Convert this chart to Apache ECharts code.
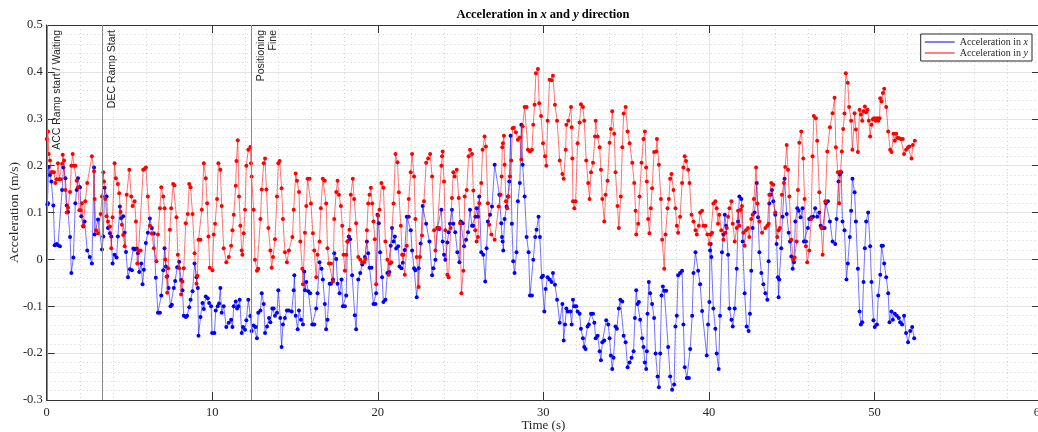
<!DOCTYPE html>
<html>
<head>
<meta charset="utf-8">
<title>Acceleration in x and y direction</title>
<script src="https://cdn.jsdelivr.net/npm/echarts@6/dist/echarts.min.js"></script>
<style>
  html, body { margin: 0; padding: 0; background: #ffffff; }
  #chart { width: 1038px; height: 432px; }
</style>
</head>
<body>
<div id="chart"></div>
<script>
// Measured acceleration samples: [time (s), acceleration (m/s)]
const accelX = [
  [0.04,0.117],[0.08,0.120],[0.12,0.197],[0.20,0.180],[0.28,0.166],[0.40,0.115],[0.48,0.030],[0.60,0.033],[0.68,0.030],[0.80,0.028],
  [0.93,0.148],[1.01,0.196],[1.13,0.173],[1.21,0.115],[1.29,0.101],[1.41,0.048],[1.49,-0.029],[1.61,0.004],[1.73,0.120],[1.81,0.148],
  [1.89,0.173],[2.01,0.154],[2.09,0.092],[2.21,0.070],[2.29,0.081],[2.45,0.019],[2.60,0.005],[2.73,-0.009],[2.86,0.196],[2.90,0.053],
  [3.10,0.085],[3.34,0.021],[3.42,0.049],[3.50,0.153],[3.62,0.134],[3.70,0.067],[3.82,0.056],[3.90,0.049],[3.98,-0.009],[4.10,0.010],
  [4.22,0.004],[4.30,0.049],[4.42,0.113],[4.50,0.088],[4.62,0.092],[4.71,0.057],[4.79,0.016],[4.91,-0.038],[5.03,-0.021],[5.15,-0.023],
  [5.23,0.023],[5.31,0.021],[5.43,0.023],[5.51,0.013],[5.59,-0.027],[5.71,-0.009],[5.79,-0.053],[5.87,-0.022],[5.99,0.035],[6.11,0.057],
  [6.23,0.087],[6.35,0.067],[6.47,0.055],[6.59,-0.039],[6.72,-0.114],[6.84,-0.114],[6.92,-0.077],[7.04,-0.023],[7.12,0.024],[7.20,-0.015],
  [7.28,-0.036],[7.36,-0.061],[7.48,-0.100],[7.56,-0.097],[7.68,-0.061],[7.76,-0.046],[7.88,-0.017],[8.00,-0.005],[8.12,-0.044],[8.20,-0.066],
  [8.28,-0.120],[8.40,-0.123],[8.48,-0.120],[8.61,-0.102],[8.69,-0.086],[8.81,-0.068],[8.93,-0.009],[9.05,-0.038],[9.13,-0.061],[9.17,-0.163],
  [9.29,-0.123],[9.41,-0.093],[9.49,-0.106],[9.61,-0.079],[9.73,-0.083],[9.81,-0.093],[9.93,-0.100],[9.99,-0.157],[10.13,-0.157],[10.21,-0.109],
  [10.33,-0.100],[10.41,-0.094],[10.49,-0.061],[10.57,-0.114],[10.69,-0.100],[10.85,-0.144],[11.00,-0.135],[11.14,-0.129],[11.22,-0.144],[11.30,-0.100],
  [11.42,-0.090],[11.50,-0.105],[11.58,-0.100],[11.66,-0.086],[11.78,-0.157],[11.86,-0.144],[11.98,-0.150],[12.06,-0.130],[12.18,-0.086],[12.30,-0.121],
  [12.38,-0.153],[12.50,-0.141],[12.62,-0.144],[12.70,-0.168],[12.78,-0.114],[12.91,-0.109],[12.99,-0.072],[13.11,-0.095],[13.19,-0.157],[13.31,-0.143],
  [13.43,-0.125],[13.51,-0.134],[13.63,-0.105],[13.71,-0.105],[13.79,-0.120],[13.91,-0.114],[13.99,-0.066],[14.11,-0.125],[14.19,-0.187],[14.27,-0.139],
  [14.39,-0.125],[14.51,-0.109],[14.63,-0.109],[14.80,-0.111],[14.92,-0.066],[14.96,-0.034],[15.04,-0.120],[15.16,-0.149],[15.24,-0.109],[15.36,-0.129],
  [15.48,-0.139],[15.56,-0.026],[15.60,-0.066],[15.68,-0.048],[15.80,-0.068],[15.92,-0.072],[16.04,-0.139],[16.16,-0.139],[16.28,-0.105],[16.36,-0.072],
  [16.48,-0.006],[16.60,-0.020],[16.68,-0.043],[16.80,-0.095],[16.88,-0.149],[16.96,-0.129],[17.09,-0.052],[17.17,-0.052],[17.29,-0.043],[17.37,0.013],
  [17.49,0.001],[17.57,-0.052],[17.69,-0.072],[17.81,-0.043],[17.89,-0.100],[18.01,-0.100],[18.09,-0.077],[18.17,0.038],[18.25,0.049],[18.33,0.043],
  [18.45,-0.034],[18.61,-0.119],[18.69,-0.149],[18.82,-0.043],[18.94,-0.029],[19.06,-0.011],[19.22,0.005],[19.34,0.038],[19.42,0.013],[19.50,-0.018],
  [19.62,-0.018],[19.74,-0.095],[19.86,-0.095],[19.90,-0.072],[19.98,0.095],[20.06,0.077],[20.14,0.015],[20.26,-0.038],[20.34,-0.091],[20.46,-0.086],
  [20.58,-0.029],[20.70,-0.027],[20.78,0.029],[20.86,0.067],[20.95,0.038],[21.03,0.049],[21.11,0.023],[21.23,0.028],[21.31,-0.015],[21.43,-0.019],
  [21.51,-0.007],[21.63,0.020],[21.75,0.091],[21.87,0.091],[21.99,0.062],[22.07,0.019],[22.19,-0.019],[22.27,-0.023],[22.35,-0.081],[22.47,-0.019],
  [22.59,0.034],[22.71,0.114],[22.92,0.076],[23.12,0.038],[23.28,-0.034],[23.36,-0.019],[23.48,-0.001],[23.60,0.067],[23.72,0.065],[23.84,0.106],
  [23.92,0.038],[24.00,0.010],[24.08,-0.001],[24.20,0.036],[24.28,0.058],[24.36,0.076],[24.48,0.106],[24.56,0.076],[24.68,0.058],[24.81,0.015],
  [24.93,-0.006],[25.01,0.081],[25.13,0.077],[25.21,0.028],[25.33,0.042],[25.45,0.058],[25.57,0.106],[25.69,0.072],[25.77,0.072],[25.89,0.091],
  [25.97,0.109],[26.05,0.091],[26.13,0.134],[26.25,0.015],[26.37,0.010],[26.49,-0.047],[26.57,0.024],[26.65,0.081],[26.78,0.095],[26.90,0.113],
  [27.06,0.202],[27.34,0.138],[27.46,0.077],[27.50,0.048],[27.54,0.038],[27.58,0.019],[27.66,0.086],[27.78,0.113],[27.86,0.134],[27.94,0.166],
  [28.02,0.264],[28.10,0.076],[28.18,-0.004],[28.26,-0.029],[28.38,0.015],[28.46,0.124],[28.58,0.163],[28.67,0.287],[28.75,0.202],[28.87,0.134],
  [28.99,0.048],[29.11,0.015],[29.19,-0.077],[29.31,-0.077],[29.39,-0.001],[29.51,0.048],[29.59,0.063],[29.71,0.091],[29.79,0.048],[29.90,-0.038],
  [29.98,-0.035],[30.06,-0.111],[30.14,-0.063],[30.26,-0.038],[30.38,-0.043],[30.50,-0.048],[30.58,-0.029],[30.70,-0.054],[30.83,-0.086],[30.99,-0.135],
  [31.15,-0.095],[31.23,-0.173],[31.31,-0.139],[31.39,-0.105],[31.47,-0.111],[31.63,-0.111],[31.71,-0.139],[31.79,-0.086],[31.87,-0.100],[31.99,-0.100],
  [32.07,-0.111],[32.19,-0.116],[32.27,-0.148],[32.39,-0.168],[32.47,-0.187],[32.55,-0.191],[32.67,-0.143],[32.75,-0.139],[32.88,-0.116],[33.00,-0.116],
  [33.08,-0.135],[33.16,-0.168],[33.28,-0.163],[33.40,-0.196],[33.48,-0.215],[33.56,-0.177],[33.68,-0.173],[33.80,-0.130],[33.92,-0.139],[34.00,-0.168],
  [34.08,-0.205],[34.16,-0.234],[34.24,-0.210],[34.36,-0.143],[34.44,-0.148],[34.56,-0.105],[34.65,-0.086],[34.77,-0.090],[34.85,-0.163],[34.97,-0.177],
  [35.09,-0.230],[35.21,-0.220],[35.33,-0.210],[35.45,-0.196],[35.53,-0.125],[35.61,-0.066],[35.69,-0.095],[35.77,-0.091],[35.85,-0.129],[35.97,-0.168],
  [36.05,-0.187],[36.13,-0.220],[36.21,-0.234],[36.25,-0.196],[36.29,-0.116],[36.37,-0.048],[36.45,-0.072],[36.57,-0.095],[36.69,-0.125],[36.78,-0.201],
  [36.90,-0.250],[36.98,-0.273],[37.06,-0.201],[37.14,-0.077],[37.22,-0.058],[37.30,-0.067],[37.42,-0.067],[37.54,-0.187],[37.66,-0.250],[37.78,-0.278],
  [37.90,-0.267],[37.98,-0.143],[38.06,-0.120],[38.14,-0.034],[38.26,-0.029],[38.38,-0.024],[38.46,-0.139],[38.54,-0.230],[38.67,-0.253],[38.79,-0.253],
  [38.87,-0.191],[38.99,-0.120],[39.07,-0.029],[39.19,0.015],[39.35,-0.024],[39.47,-0.053],[39.59,-0.110],[39.87,-0.205],[39.95,-0.139],[40.03,-0.091],
  [40.07,0.019],[40.11,0.033],[40.15,0.005],[40.27,-0.105],[40.39,-0.148],[40.47,-0.201],[40.59,-0.234],[40.67,-0.120],[40.79,0.015],[40.88,0.053],
  [40.96,0.095],[41.04,0.072],[41.16,0.010],[41.24,-0.105],[41.36,-0.129],[41.44,-0.143],[41.56,-0.105],[41.68,-0.020],[41.76,0.081],[41.84,0.134],
  [41.96,0.129],[42.04,0.038],[42.16,-0.072],[42.28,-0.143],[42.40,-0.153],[42.48,-0.116],[42.56,-0.024],[42.64,0.067],[42.76,0.100],[42.89,0.163],
  [42.97,0.090],[43.05,0.015],[43.17,-0.029],[43.29,-0.053],[43.41,-0.072],[43.53,-0.086],[43.61,-0.004],[43.65,0.119],[43.73,0.138],[43.81,0.148],
  [43.89,0.124],[44.01,0.095],[44.09,0.033],[44.17,-0.038],[44.21,-0.081],[44.25,-0.043],[44.37,0.024],[44.45,0.091],[44.57,0.172],[44.70,0.097],
  [44.82,0.057],[44.90,0.038],[44.98,0.006],[45.06,-0.020],[45.14,-0.006],[45.22,0.081],[45.34,0.109],[45.42,0.104],[45.54,0.090],[45.66,0.109],
  [45.74,0.038],[45.86,0.038],[45.98,0.067],[46.06,0.086],[46.18,0.090],[46.30,0.091],[46.42,0.109],[46.54,0.091],[46.67,0.100],[46.75,0.072],
  [46.87,0.067],[46.99,0.067],[47.07,0.120],[47.19,0.124],[47.31,0.081],[47.47,0.038],[47.63,0.033],[47.71,0.086],[47.83,0.166],[47.91,0.181],
  [47.99,0.186],[48.07,0.081],[48.19,0.062],[48.31,-0.043],[48.39,-0.009],[48.51,0.048],[48.59,0.104],[48.67,0.172],[48.80,0.143],[48.88,0.081],
  [49.00,-0.020],[49.10,-0.111],[49.18,-0.139],[49.26,-0.134],[49.34,-0.048],[49.42,0.024],[49.50,0.081],[49.62,0.100],[49.74,0.028],[49.82,-0.048],
  [49.94,-0.130],[50.02,-0.144],[50.15,-0.139],[50.23,-0.077],[50.35,-0.033],[50.43,0.029],[50.51,0.029],[50.59,-0.009],[50.71,-0.038],[50.83,-0.072],
  [50.91,-0.134],[51.03,-0.111],[51.11,-0.129],[51.23,-0.116],[51.35,-0.120],[51.47,-0.125],[51.55,-0.134],[51.67,-0.139],[51.79,-0.120],[51.91,-0.157],
  [52.03,-0.177],[52.16,-0.153],[52.28,-0.144],[52.40,-0.168]
];

const accelY = [
  [0.00,0.257],[0.08,0.273],[0.12,0.225],[0.20,0.211],[0.28,0.186],[0.36,0.186],[0.44,0.186],[0.52,0.163],[0.60,0.171],[0.68,0.205],
  [0.76,0.171],[0.85,0.171],[0.93,0.204],[0.97,0.223],[1.05,0.211],[1.13,0.148],[1.21,0.100],[1.29,0.110],[1.41,0.144],[1.49,0.200],
  [1.57,0.225],[1.65,0.200],[1.73,0.200],[1.81,0.168],[1.89,0.154],[1.97,0.105],[2.05,0.105],[2.13,0.120],[2.21,0.072],[2.33,0.124],
  [2.45,0.163],[2.73,0.220],[2.86,0.188],[2.90,0.129],[2.98,0.062],[3.10,0.056],[3.26,0.097],[3.34,0.134],[3.42,0.186],[3.46,0.166],
  [3.54,0.129],[3.62,0.092],[3.70,0.081],[3.82,0.070],[3.90,0.024],[3.98,0.090],[4.10,0.205],[4.18,0.173],[4.30,0.161],[4.38,0.141],
  [4.46,0.101],[4.54,0.074],[4.62,0.052],[4.71,0.028],[4.83,0.138],[4.99,0.191],[5.11,0.134],[5.19,0.114],[5.31,0.124],[5.39,0.081],
  [5.47,-0.009],[5.55,0.019],[5.67,0.019],[5.83,0.191],[5.91,0.193],[5.99,0.196],[6.11,0.134],[6.23,0.072],[6.35,0.055],[6.47,0.024],
  [6.63,-0.004],[6.72,0.053],[6.84,0.109],[6.92,0.154],[7.04,0.134],[7.12,0.109],[7.16,0.000],[7.24,-0.037],[7.28,-0.071],[7.34,-0.019],
  [7.44,0.063],[7.52,0.109],[7.64,0.161],[7.72,0.158],[7.84,0.090],[7.92,0.010],[8.00,-0.019],[8.12,-0.075],[8.20,-0.047],[8.28,-0.019],
  [8.40,0.077],[8.52,0.097],[8.61,0.161],[8.69,0.154],[8.81,0.097],[8.93,0.013],[9.05,-0.052],[9.10,-0.035],[9.17,0.042],[9.29,0.042],
  [9.37,0.106],[9.49,0.205],[9.61,0.173],[9.69,0.120],[9.77,0.049],[9.85,-0.018],[10.01,-0.023],[10.09,0.053],[10.17,0.076],[10.29,0.129],
  [10.37,0.205],[10.49,0.191],[10.57,0.114],[10.69,0.024],[10.85,-0.006],[11.00,0.005],[11.14,0.029],[11.22,0.062],[11.30,0.095],[11.42,0.157],
  [11.46,0.210],[11.54,0.254],[11.62,0.134],[11.70,0.072],[11.78,0.019],[11.82,0.010],[11.90,0.056],[11.98,0.106],[12.06,0.200],[12.18,0.234],
  [12.30,0.240],[12.34,0.205],[12.38,0.177],[12.50,0.106],[12.58,-0.001],[12.70,-0.024],[12.78,-0.020],[12.91,0.086],[12.99,0.149],[13.11,0.205],
  [13.19,0.215],[13.27,0.149],[13.39,0.067],[13.51,0.019],[13.59,-0.018],[13.67,0.005],[13.79,0.043],[13.91,0.134],[13.99,0.205],[14.07,0.210],
  [14.19,0.152],[14.27,0.086],[14.39,0.015],[14.51,-0.006],[14.63,0.019],[14.84,0.048],[14.92,0.106],[15.04,0.183],[15.12,0.168],[15.24,0.144],
  [15.32,0.038],[15.44,-0.020],[15.48,-0.053],[15.60,0.057],[15.68,0.114],[15.76,0.172],[15.88,0.172],[15.96,0.119],[16.08,0.056],[16.16,0.019],
  [16.28,-0.038],[16.36,0.010],[16.48,0.038],[16.56,0.109],[16.68,0.172],[16.80,0.168],[16.88,0.119],[16.96,0.024],[17.05,-0.009],[17.17,-0.009],
  [17.29,-0.047],[17.37,0.086],[17.49,0.144],[17.57,0.168],[17.65,0.138],[17.77,0.114],[17.85,0.072],[17.93,0.010],[18.01,-0.024],[18.09,0.010],
  [18.17,0.038],[18.29,0.063],[18.37,0.138],[18.49,0.172],[18.57,0.129],[18.69,0.077],[18.82,0.005],[18.94,-0.001],[19.06,-0.006],[19.18,-0.006],
  [19.26,0.001],[19.34,0.062],[19.42,0.119],[19.50,0.138],[19.58,0.153],[19.66,0.119],[19.74,0.081],[19.82,0.043],[19.90,-0.053],[20.02,0.093],
  [20.10,0.106],[20.22,0.163],[20.34,0.153],[20.46,0.038],[20.58,-0.001],[20.66,-0.033],[20.74,-0.009],[20.82,-0.006],[20.95,0.119],[21.07,0.225],
  [21.19,0.207],[21.27,0.143],[21.39,0.072],[21.47,0.010],[21.55,0.010],[21.63,-0.033],[21.75,0.029],[21.87,0.129],[21.99,0.186],[22.07,0.225],
  [22.19,0.177],[22.27,0.086],[22.35,0.005],[22.47,-0.059],[22.55,0.005],[22.67,0.051],[22.79,0.124],[22.92,0.206],[23.04,0.215],[23.16,0.225],
  [23.28,0.177],[23.40,0.062],[23.48,0.019],[23.60,0.067],[23.72,0.067],[23.84,0.200],[23.88,0.220],[23.92,0.230],[24.00,0.166],[24.08,0.062],
  [24.20,-0.033],[24.28,-0.038],[24.40,0.067],[24.48,0.131],[24.56,0.186],[24.64,0.177],[24.77,0.191],[24.89,0.131],[24.97,0.077],[25.05,-0.072],
  [25.17,-0.024],[25.25,0.134],[25.37,0.148],[25.49,0.220],[25.57,0.234],[25.69,0.225],[25.77,0.147],[25.89,0.062],[25.97,0.038],[26.05,0.048],
  [26.13,0.120],[26.25,0.163],[26.33,0.234],[26.45,0.262],[26.53,0.241],[26.65,0.120],[26.73,0.074],[26.86,0.053],[27.06,0.042],[27.30,0.113],
  [27.42,0.138],[27.48,0.177],[27.52,0.239],[27.56,0.248],[27.62,0.264],[27.66,0.202],[27.74,0.124],[27.82,0.109],[27.90,0.134],[27.98,0.177],
  [28.06,0.211],[28.14,0.280],[28.22,0.281],[28.34,0.271],[28.46,0.255],[28.58,0.260],[28.67,0.213],[28.75,0.284],[28.87,0.325],[28.99,0.325],
  [29.07,0.234],[29.19,0.230],[29.31,0.234],[29.39,0.287],[29.47,0.330],[29.55,0.397],[29.67,0.406],[29.75,0.333],[29.86,0.306],[29.98,0.248],
  [30.10,0.220],[30.18,0.200],[30.26,0.296],[30.38,0.383],[30.50,0.382],[30.58,0.392],[30.70,0.330],[30.83,0.296],[30.99,0.211],[31.15,0.182],
  [31.23,0.172],[31.35,0.234],[31.39,0.287],[31.51,0.296],[31.67,0.325],[31.71,0.282],[31.75,0.215],[31.79,0.124],[31.87,0.109],[31.95,0.124],
  [32.07,0.248],[32.19,0.292],[32.27,0.331],[32.39,0.325],[32.47,0.296],[32.59,0.211],[32.71,0.163],[32.79,0.129],[32.88,0.186],[33.00,0.206],
  [33.12,0.262],[33.16,0.296],[33.28,0.262],[33.40,0.239],[33.48,0.191],[33.56,0.129],[33.68,0.081],[33.76,0.138],[33.88,0.168],[34.00,0.249],
  [34.08,0.278],[34.16,0.316],[34.28,0.268],[34.36,0.186],[34.48,0.114],[34.56,0.067],[34.68,0.134],[34.77,0.239],[34.85,0.311],[34.97,0.325],
  [35.09,0.273],[35.21,0.248],[35.37,0.206],[35.49,0.163],[35.57,0.104],[35.61,0.053],[35.73,0.076],[35.81,0.134],[35.93,0.206],[36.05,0.257],
  [36.13,0.273],[36.21,0.196],[36.25,0.166],[36.33,0.086],[36.41,0.056],[36.49,0.109],[36.57,0.152],[36.69,0.229],[36.82,0.230],[36.86,0.257],
  [36.98,0.202],[37.10,0.129],[37.18,0.042],[37.30,-0.020],[37.38,0.053],[37.50,0.109],[37.58,0.129],[37.66,0.172],[37.74,0.182],[37.86,0.148],
  [37.98,0.109],[38.06,0.072],[38.14,0.057],[38.26,0.091],[38.38,0.163],[38.46,0.196],[38.54,0.220],[38.62,0.210],[38.75,0.191],[38.83,0.163],
  [38.95,0.095],[39.07,0.081],[39.19,0.062],[39.27,0.053],[39.39,0.072],[39.47,0.100],[39.59,0.104],[39.67,0.072],[39.79,0.072],[39.91,0.053],
  [40.03,0.033],[40.11,0.053],[40.19,0.057],[40.27,0.119],[40.39,0.124],[40.47,0.109],[40.55,0.076],[40.63,0.095],[40.75,0.062],[40.88,0.042],
  [41.00,0.057],[41.08,0.067],[41.16,0.091],[41.24,0.109],[41.36,0.124],[41.44,0.076],[41.56,0.038],[41.68,0.067],[41.76,0.104],[41.84,0.072],
  [41.92,0.106],[42.00,0.114],[42.08,0.057],[42.16,0.029],[42.24,0.062],[42.36,0.067],[42.44,0.048],[42.56,0.086],[42.64,0.095],[42.72,0.129],
  [42.85,0.196],[42.93,0.119],[43.05,0.081],[43.21,0.057],[43.41,0.067],[43.53,0.072],[43.61,0.076],[43.65,0.138],[43.77,0.163],[43.89,0.159],
  [44.01,0.100],[44.13,0.048],[44.21,0.062],[44.29,0.067],[44.41,0.138],[44.53,0.163],[44.61,0.197],[44.70,0.244],[44.78,0.191],[44.86,0.134],
  [44.98,0.042],[45.10,-0.001],[45.18,0.004],[45.30,0.038],[45.38,0.148],[45.46,0.249],[45.58,0.273],[45.70,0.215],[45.78,0.129],[45.86,0.028],
  [45.94,-0.006],[46.06,0.019],[46.18,0.086],[46.26,0.220],[46.34,0.306],[46.46,0.301],[46.54,0.253],[46.67,0.143],[46.79,0.067],[46.87,0.010],
  [47.03,0.124],[47.15,0.230],[47.31,0.282],[47.47,0.312],[47.59,0.345],[47.67,0.239],[47.79,0.186],[47.87,0.120],[47.95,0.187],[48.03,0.230],
  [48.11,0.278],[48.19,0.311],[48.27,0.397],[48.39,0.377],[48.47,0.325],[48.59,0.296],[48.67,0.234],[48.80,0.312],[48.88,0.277],[49.00,0.229],
  [49.10,0.319],[49.18,0.309],[49.26,0.296],[49.34,0.316],[49.42,0.326],[49.50,0.314],[49.58,0.319],[49.66,0.296],[49.74,0.262],[49.82,0.287],
  [49.90,0.299],[49.98,0.301],[50.07,0.296],[50.15,0.301],[50.23,0.296],[50.31,0.301],[50.35,0.344],[50.43,0.337],[50.51,0.355],[50.59,0.364],
  [50.71,0.325],[50.83,0.273],[50.95,0.234],[51.03,0.229],[51.15,0.268],[51.23,0.253],[51.31,0.268],[51.39,0.259],[51.47,0.259],[51.59,0.257],
  [51.71,0.257],[51.79,0.225],[51.91,0.234],[52.03,0.239],[52.11,0.241],[52.24,0.215],[52.32,0.244],[52.44,0.253]
];

// Phase markers along the time axis
const eventTimes = [0.03, 3.36, 12.33];
const eventLabels = ['ACC Ramp start / Waiting', 'DEC Ramp Start', 'Positioning\nFine'];

// Series names and axis ranges
const seriesNames = ['Acceleration in x', 'Acceleration in y'];
const timeRange = [0, 60];
const timeStep = 10;
const accelRange = [-0.3, 0.5];
const accelStep = 0.1;

const serif = "'Liberation Serif', 'Times New Roman', serif";
const sans = "'Liberation Sans', Arial, sans-serif";
const ink = '#262626';
const axisInk = '#333333';

// Split "Acceleration in x" into upright words and an italic axis letter
function richName(name) {
  const k = name.lastIndexOf(' ');
  return '{n|' + name.slice(0, k + 1) + '}{i|' + name.slice(k + 1) + '}';
}

const boxAxis = {
  axisLine: { show: true, onZero: false, lineStyle: { color: axisInk, width: 1 } },
  axisTick: { show: true, inside: true, length: 8, lineStyle: { color: axisInk, width: 1 } },
  axisLabel: { show: false },
  splitLine: { show: false }
};

const chart = echarts.init(document.getElementById('chart'), null, { renderer: 'canvas' });

chart.setOption({
  animation: false,
  backgroundColor: '#ffffff',
  title: {
    text: '{b|Acceleration in }{bi|x}{b| and }{bi|y}{b| direction}',
    left: 538,
    top: 3,
    textAlign: 'center',
    textStyle: {
      rich: {
        b: { fontFamily: serif, fontWeight: 'bold', fontSize: 12.5, color: '#000' },
        bi: { fontFamily: serif, fontStyle: 'italic', fontWeight: 'bold', fontSize: 12.5, color: '#000' }
      }
    }
  },
  legend: {
    orient: 'vertical',
    right: 6,
    top: 34,
    backgroundColor: '#ffffff',
    borderColor: ink,
    borderWidth: 1,
    borderRadius: 0,
    padding: [3, 4, 3, 4],
    itemGap: 1,
    itemWidth: 30,
    itemHeight: 1,
    icon: 'rect',
    data: seriesNames,
    formatter: richName,
    textStyle: {
      color: ink,
      rich: {
        n: { fontFamily: serif, fontSize: 10, color: ink },
        i: { fontFamily: serif, fontSize: 10, fontStyle: 'italic', color: ink }
      }
    }
  },
  grid: { left: 46.7, right: -2, top: 25, bottom: 32, containLabel: false, outerBoundsMode: 'none' },
  xAxis: [
    {
      type: 'value',
      position: 'bottom',
      min: timeRange[0], max: timeRange[1], interval: timeStep,
      name: 'Time (s)',
      nameLocation: 'middle',
      nameGap: 19,
      nameMoveOverlap: false,
      nameTextStyle: { fontFamily: serif, fontSize: 13, color: ink },
      axisLine: { show: true, onZero: false, lineStyle: { color: axisInk, width: 1 } },
      axisTick: { show: true, inside: true, length: 8, lineStyle: { color: axisInk } },
      axisLabel: { margin: 6, fontFamily: serif, fontSize: 12.5, color: ink, hideOverlap: false },
      splitLine: { show: true, lineStyle: { color: '#e4e4e4', width: 1 } },
      minorTick: { show: false, splitNumber: 5 },
      minorSplitLine: { show: true, lineStyle: { color: '#d2d2d2', width: 1, type: [1, 3] } }
    },
    Object.assign({ type: 'value', position: 'top', min: timeRange[0], max: timeRange[1], interval: timeStep }, boxAxis)
  ],
  yAxis: [
    {
      type: 'value',
      position: 'left',
      min: accelRange[0], max: accelRange[1], interval: accelStep,
      name: 'Acceleration (m/s)',
      nameLocation: 'middle',
      nameGap: 25,
      nameMoveOverlap: false,
      nameRotate: 90,
      nameTextStyle: { fontFamily: serif, fontSize: 13.5, color: ink },
      axisLine: { show: true, onZero: false, lineStyle: { color: axisInk, width: 1 } },
      axisTick: { show: true, inside: true, length: 8, lineStyle: { color: axisInk } },
      axisLabel: {
        margin: 4, fontFamily: serif, fontSize: 12.5, color: ink,
        formatter: v => String(Math.round(v * 10) / 10)
      },
      splitLine: { show: true, lineStyle: { color: '#e4e4e4', width: 1 } },
      minorTick: { show: false, splitNumber: 5 },
      minorSplitLine: { show: true, lineStyle: { color: '#d2d2d2', width: 1, type: [1, 3] } }
    },
    Object.assign({ type: 'value', position: 'right', min: accelRange[0], max: accelRange[1], interval: accelStep }, boxAxis)
  ],
  series: [
    {
      name: seriesNames[0],
      type: 'line',
      xAxisIndex: 0, yAxisIndex: 0,
      data: accelX,
      symbol: 'circle',
      symbolSize: 4,
      showSymbol: true,
      itemStyle: { color: '#0000ff' },
      lineStyle: { color: 'rgba(0,0,255,0.55)', width: 1 },
      z: 2,
      markLine: {
        silent: true,
        animation: false,
        symbol: ['none', 'none'],
        lineStyle: { color: '#8a8a8a', width: 1, type: 'solid' },
        label: {
          show: true,
          position: 'insideEndBottom',
          distance: [5, 4],
          formatter: p => p.name,
          fontFamily: sans,
          fontSize: 10.5,
          lineHeight: 12,
          color: ink
        },
        data: eventTimes.map((t, i) => ({ xAxis: t, name: eventLabels[i] }))
      }
    },
    {
      name: seriesNames[1],
      type: 'line',
      xAxisIndex: 0, yAxisIndex: 0,
      data: accelY,
      symbol: 'circle',
      symbolSize: 4,
      showSymbol: true,
      itemStyle: { color: '#ff0000' },
      lineStyle: { color: 'rgba(255,0,0,0.55)', width: 1 },
      z: 3
    }
  ]
});
</script>
</body>
</html>
